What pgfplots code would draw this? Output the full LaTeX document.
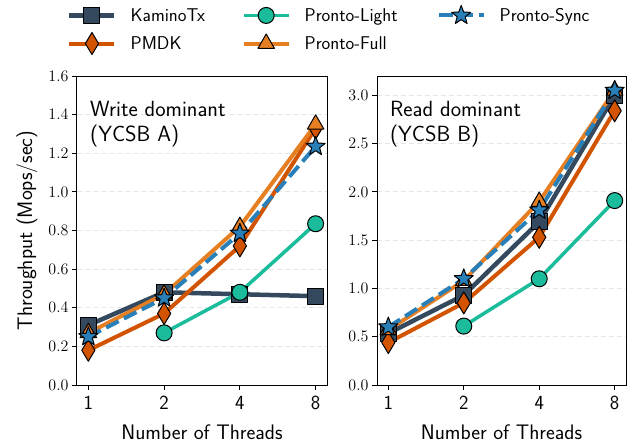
\RequirePackage{fix-cm}
\documentclass[border=0pt]{standalone}
\usepackage{pgfplots}
\pgfplotsset{compat=1.18}
\renewcommand{\familydefault}{\sfdefault}
\definecolor{cKam}{HTML}{34495E}
\definecolor{cPM}{HTML}{D35400}
\definecolor{cPL}{HTML}{1ABC9C}
\definecolor{cPF}{HTML}{E67E22}
\definecolor{cPS}{HTML}{2980B9}
\pgfdeclareplotmark{fstar}{%
  \pgfpathmoveto{\pgfqpointpolar{90}{\pgfplotmarksize}}%
  \pgfpathlineto{\pgfqpointpolar{126}{0.42\pgfplotmarksize}}%
  \pgfpathlineto{\pgfqpointpolar{162}{\pgfplotmarksize}}%
  \pgfpathlineto{\pgfqpointpolar{198}{0.42\pgfplotmarksize}}%
  \pgfpathlineto{\pgfqpointpolar{234}{\pgfplotmarksize}}%
  \pgfpathlineto{\pgfqpointpolar{270}{0.42\pgfplotmarksize}}%
  \pgfpathlineto{\pgfqpointpolar{306}{\pgfplotmarksize}}%
  \pgfpathlineto{\pgfqpointpolar{342}{0.42\pgfplotmarksize}}%
  \pgfpathlineto{\pgfqpointpolar{18}{\pgfplotmarksize}}%
  \pgfpathlineto{\pgfqpointpolar{54}{0.42\pgfplotmarksize}}%
  \pgfpathclose
  \pgfusepathqfillstroke}
\pgfplotsset{
  kam/.style={color=cKam, line width=4.5pt, line join=round, mark=square*, mark size=8pt,
    mark options={solid, fill=cKam, draw=black, line width=1pt}},
  pmd/.style={color=cPM, line width=4pt, line join=round, mark=diamond*, mark size=11pt,
    mark options={solid, fill=cPM, draw=black, line width=1pt, xscale=0.8}},
  pli/.style={color=cPL, line width=3.5pt, line join=round, mark=*, mark size=8pt,
    mark options={solid, fill=cPL, draw=black, line width=1pt}},
  pfu/.style={color=cPF, line width=4pt, line join=round, mark=triangle*, mark size=9.5pt,
    mark options={solid, fill=cPF, draw=black, line width=1pt}},
  psy/.style={color=cPS, line width=4pt, line join=round, dash pattern=on 14pt off 6pt, mark=fstar, mark size=10pt,
    mark options={solid, fill=cPS, draw=black, line width=1pt}},
  myaxis/.style={
    scale only axis, width=250pt, height=309pt,
    xmin=-0.15, xmax=3.15, xtick={0,1,2,3}, xticklabels={1,2,4,8},
    xtick pos=lower, ytick pos=left,
    tick align=outside, major tick length=5pt,
    axis line style={line width=1pt}, tick style={line width=1pt, black},
    ymajorgrids, major grid style={dash pattern=on 5pt off 3pt, line width=0.8pt, black!10},
    yticklabel style={font=\fontsize{16}{16}\selectfont, /pgf/number format/fixed,
      /pgf/number format/fixed zerofill, /pgf/number format/precision=1},
    xticklabel style={font=\fontsize{20}{20}\selectfont, yshift=-3pt},
    xlabel={Number of Threads},
    xlabel style={font=\fontsize{21}{21}\selectfont, at={(axis description cs:0.5,-0.152)}, anchor=center},
    legend image code/.code={\draw[mark repeat=2, mark phase=2, ##1] plot coordinates {(0pt,0pt) (22.5pt,0pt) (45pt,0pt)};},
  }
}
\begin{document}
\begin{tikzpicture}
\begin{axis}[myaxis, at={(0pt,0pt)}, anchor=south west,
  ymin=0, ymax=1.6, ytick={0,0.2,...,1.6},
  ylabel={Throughput (Mops/sec)},
  ylabel style={font=\fontsize{21}{21}\selectfont, at={(axis description cs:-0.2,0.5)}, anchor=center},
  legend columns=3,
  legend cell align=left,
  legend style={draw=none, fill=none, font=\fontsize{18.5}{18.5}\selectfont,
    at={(axis description cs:-0.04,1.229)}, anchor=north west,
    inner sep=0pt, row sep=9pt, column sep=0pt, nodes={inner sep=0pt}},
]
\addlegendimage{kam}\addlegendentry{\hspace{14pt}\makebox[111pt][l]{KaminoTx}}
\addlegendimage{pli}\addlegendentry{\hspace{14pt}\makebox[132pt][l]{Pronto-Light}}
\addlegendimage{psy}\addlegendentry{\hspace{14pt}Pronto-Sync}
\addlegendimage{pmd}\addlegendentry{\hspace{14pt}\makebox[111pt][l]{PMDK}}
\addlegendimage{pfu}\addlegendentry{\hspace{14pt}\makebox[132pt][l]{Pronto-Full}}
\addplot[kam, forget plot] coordinates {(0,0.31)(1,0.48)(2,0.47)(3,0.46)};
\addplot[pmd, forget plot] coordinates {(0,0.18)(1,0.37)(2,0.72)(3,1.33)};
\addplot[pli, forget plot] coordinates {(1,0.27)(2,0.48)(3,0.835)};
\addplot[pfu, forget plot] coordinates {(0,0.27)(1,0.47)(2,0.82)(3,1.35)};
\addplot[psy, forget plot] coordinates {(0,0.25)(1,0.45)(2,0.785)(3,1.235)};
\node[anchor=north west, inner sep=0pt, align=left, font=\fontsize{22}{25}\selectfont]
  at (axis description cs:0.052,0.919) {Write dominant\\(YCSB A)};
\end{axis}
\begin{axis}[myaxis, at={(300pt,0pt)}, anchor=south west, width=249pt,
  ymin=0, ymax=3.2, ytick={0,0.5,...,3.0},
]
\addplot[kam] coordinates {(0,0.535)(1,0.93)(2,1.69)(3,3.0)};
\addplot[pmd] coordinates {(0,0.44)(1,0.85)(2,1.53)(3,2.84)};
\addplot[pli] coordinates {(1,0.61)(2,1.10)(3,1.91)};
\addplot[pfu] coordinates {(0,0.57)(1,1.08)(2,1.9)(3,3.05)};
\addplot[psy] coordinates {(0,0.60)(1,1.10)(2,1.81)(3,3.05)};
\node[anchor=north west, inner sep=0pt, align=left, font=\fontsize{22}{25}\selectfont]
  at (axis description cs:0.052,0.919) {Read dominant\\(YCSB B)};
\end{axis}
\pgfresetboundingbox
\useasboundingbox (-77pt,-60pt) rectangle (562pt,385pt);
\end{tikzpicture}
\end{document}
